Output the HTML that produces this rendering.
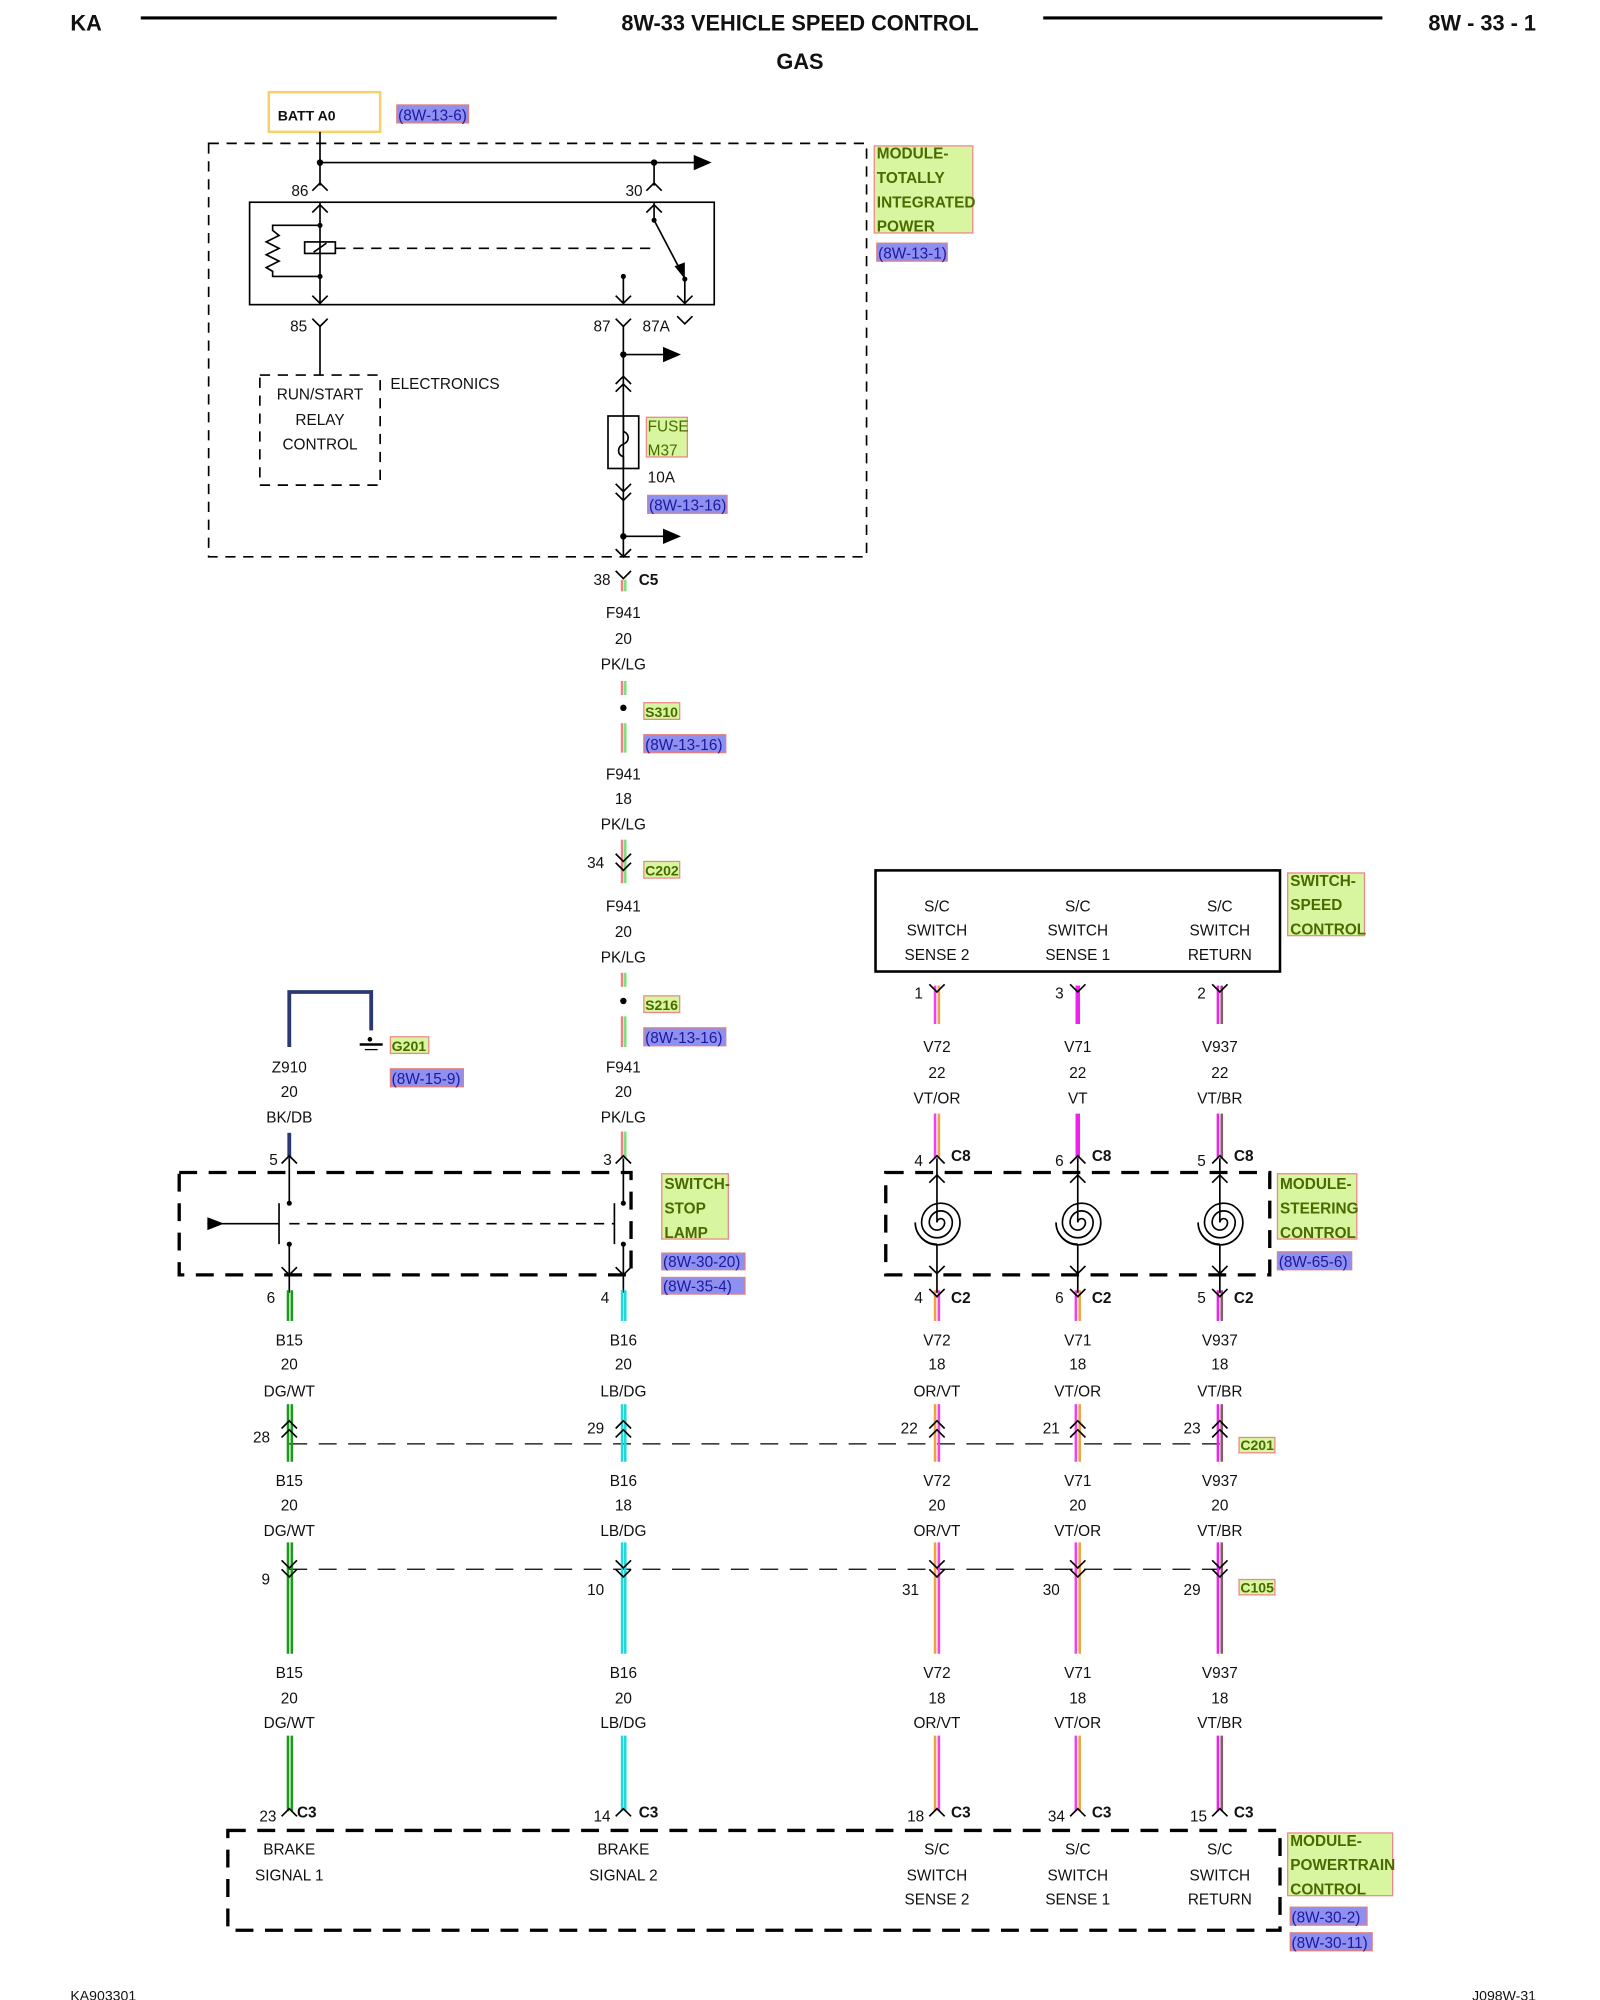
<!DOCTYPE html>
<html><head><meta charset="utf-8"><style>
html,body{margin:0;padding:0;background:#fff;}
svg{display:block}
text{font-family:"Liberation Sans",sans-serif;font-size:12px;fill:#111}
.b{font-weight:bold}
.c{text-anchor:middle}
.lg{font-weight:bold;fill:#4a6a00;font-size:12px}
.lb{fill:#1a1aa0;font-size:12px}
.k{stroke:#000;stroke-width:1.3;fill:none}
.d{stroke:#000;stroke-width:1.3;fill:none;stroke-dasharray:8 6}
.D{stroke:#000;stroke-width:2.6;fill:none;stroke-dasharray:14 9}
</style></head><body>
<svg width="1600" height="2000" viewBox="0 0 1250 1562.5" xmlns="http://www.w3.org/2000/svg">
<defs>
<g id="m"><polyline class="k" points="-6,6 0,0 6,6"/></g>
<g id="f"><polyline class="k" points="-6,-6 0,0 6,-6"/></g>
<g id="ar"><polygon points="0,-6 14,0 0,6" fill="#000"/></g>
</defs>
<text x="55" y="24" class="b" style="font-size:17px">KA</text>
<line x1="110" y1="14" x2="435" y2="14" stroke="#000" stroke-width="2.5"/>
<text x="625" y="24" class="b c" style="font-size:17px">8W-33 VEHICLE SPEED CONTROL</text>
<text x="625" y="54" class="b c" style="font-size:17px">GAS</text>
<line x1="815" y1="14" x2="1080" y2="14" stroke="#000" stroke-width="2.5"/>
<text x="1200" y="24" class="b" style="font-size:17px;text-anchor:end">8W - 33 - 1</text>

<rect x="210" y="72" width="87" height="31" fill="#fff" stroke="#f5d36a" stroke-width="2"/>
<text x="217" y="94" class="b" style="font-size:11px">BATT A0</text>
<rect x="310" y="82" width="56" height="14" fill="#8f8ff0" stroke="#e08080"/><text x="311" y="94" class="lb">(8W-13-6)</text>

<rect x="163" y="112" width="514" height="323" class="d"/>
<rect x="683" y="114" width="77" height="68" fill="#d8f5a0" stroke="#e88"/>
<text x="685" y="124" class="lg">MODULE-</text><text x="685" y="143" class="lg">TOTALLY</text><text x="685" y="162" class="lg">INTEGRATED</text><text x="685" y="181" class="lg">POWER</text>
<rect x="685" y="190" width="55" height="14" fill="#8f8ff0" stroke="#e08080"/><text x="686" y="202" class="lb">(8W-13-1)</text>
<line x1="250" y1="103" x2="250" y2="145" class="k"/>
<line x1="250" y1="127" x2="545" y2="127" class="k"/><use href="#ar" x="542" y="127"/>
<circle cx="250" cy="127" r="2.5"/><circle cx="511" cy="127" r="2.5"/>
<line x1="511" y1="127" x2="511" y2="145" class="k"/>
<use href="#m" x="250" y="143"/><use href="#m" x="511" y="143"/>
<text x="241" y="153" style="text-anchor:end">86</text><text x="502" y="153" style="text-anchor:end">30</text>
<rect x="195" y="158" width="363" height="80" class="k"/>
<line x1="250" y1="158" x2="250" y2="238" class="k"/><use href="#m" x="250" y="160"/><use href="#f" x="250" y="237"/>
<polyline class="k" points="250,176 213,176 213,180 218,184 208,189 218,194 208,199 218,204 208,209 213,212 213,216 250,216"/>
<circle cx="250" cy="176" r="2"/><circle cx="250" cy="216" r="2"/>
<rect x="238" y="189" width="24" height="9" fill="#fff" class="k"/><line x1="245" y1="197" x2="255" y2="190" class="k"/>
<line x1="262" y1="194" x2="510" y2="194" class="d"/>
<line x1="511" y1="158" x2="511" y2="172" class="k"/><use href="#m" x="511" y="160"/><circle cx="511" cy="172" r="2"/>
<line x1="511" y1="172" x2="532" y2="212" class="k"/><polygon points="535,218 527,208 535,205" fill="#000"/>
<circle cx="535" cy="218" r="2"/><line x1="535" y1="218" x2="535" y2="238" class="k"/><use href="#f" x="535" y="237"/>
<circle cx="487" cy="216" r="2"/><line x1="487" y1="216" x2="487" y2="238" class="k"/><use href="#f" x="487" y="237"/>
<use href="#f" x="250" y="255"/><use href="#f" x="487" y="255"/><use href="#f" x="535" y="253"/>
<text x="240" y="259" style="text-anchor:end">85</text><text x="477" y="259" style="text-anchor:end">87</text><text x="502" y="259">87A</text>
<line x1="250" y1="255" x2="250" y2="293" class="k"/>
<rect x="203" y="293" width="94" height="86" class="d"/>
<text x="250" y="312" class="c">RUN/START</text><text x="250" y="332" class="c">RELAY</text><text x="250" y="351" class="c">CONTROL</text>
<text x="305" y="304">ELECTRONICS</text>
<line x1="487" y1="255" x2="487" y2="435" class="k"/>
<circle cx="487" cy="277" r="2.5"/><line x1="487" y1="277" x2="520" y2="277" class="k"/><use href="#ar" x="518" y="277"/>
<use href="#m" x="487" y="294"/><use href="#m" x="487" y="300"/>
<rect x="475" y="325" width="24" height="41" fill="#fff" class="k"/>
<path d="M487,325 v12 c5,2 5,8 0,10 c-5,2 -5,8 0,10 v9" class="k"/>
<rect x="505" y="326" width="32" height="31" fill="#d8f5a0" stroke="#e88"/>
<text x="506" y="337" style="fill:#4a6a00">FUSE</text><text x="506" y="356" style="fill:#4a6a00">M37</text>
<text x="506" y="377">10A</text>
<rect x="506" y="387" width="62" height="14" fill="#8f8ff0" stroke="#e08080"/><text x="507" y="399" class="lb">(8W-13-16)</text>
<use href="#f" x="487" y="384"/><use href="#f" x="487" y="391"/>
<circle cx="487" cy="419" r="2.5"/><line x1="487" y1="419" x2="520" y2="419" class="k"/><use href="#ar" x="518" y="419"/>
<use href="#f" x="487" y="435"/>

<g>
<use href="#f" x="487" y="452"/><text x="477" y="457" style="text-anchor:end">38</text><text x="499" y="457" class="b">C5</text>
<line x1="486" y1="453" x2="486" y2="462" stroke="#f08080" stroke-width="2"/><line x1="488.5" y1="453" x2="488.5" y2="462" stroke="#80e080" stroke-width="2"/>
<text x="487" y="483" class="c">F941</text><text x="487" y="503" class="c">20</text><text x="487" y="523" class="c">PK/LG</text>
<line x1="486" y1="532" x2="486" y2="543" stroke="#f08080" stroke-width="2"/><line x1="488.5" y1="532" x2="488.5" y2="543" stroke="#80e080" stroke-width="2"/>
<circle cx="487" cy="553" r="2.5"/>
<rect x="503" y="549" width="28" height="13" fill="#d8f5a0" stroke="#e88"/><text x="504" y="560" class="lg" style="font-size:11px">S310</text>
<line x1="486" y1="565" x2="486" y2="588" stroke="#f08080" stroke-width="2"/><line x1="488.5" y1="565" x2="488.5" y2="588" stroke="#80e080" stroke-width="2"/>
<rect x="503" y="574" width="64" height="14" fill="#8f8ff0" stroke="#e08080"/><text x="504" y="586" class="lb">(8W-13-16)</text>
<text x="487" y="609" class="c">F941</text><text x="487" y="628" class="c">18</text><text x="487" y="648" class="c">PK/LG</text>
<line x1="486" y1="656" x2="486" y2="690" stroke="#f08080" stroke-width="2"/><line x1="488.5" y1="656" x2="488.5" y2="690" stroke="#80e080" stroke-width="2"/>
<use href="#f" x="487" y="673"/><use href="#f" x="487" y="680"/>
<text x="472" y="678" style="text-anchor:end">34</text>
<rect x="503" y="673" width="28" height="13" fill="#d8f5a0" stroke="#e88"/><text x="504" y="684" class="lg" style="font-size:11px">C202</text>
<text x="487" y="712" class="c">F941</text><text x="487" y="732" class="c">20</text><text x="487" y="752" class="c">PK/LG</text>
<line x1="486" y1="760" x2="486" y2="771" stroke="#f08080" stroke-width="2"/><line x1="488.5" y1="760" x2="488.5" y2="771" stroke="#80e080" stroke-width="2"/>
<circle cx="487" cy="782" r="2.5"/>
<rect x="503" y="778" width="28" height="13" fill="#d8f5a0" stroke="#e88"/><text x="504" y="789" class="lg" style="font-size:11px">S216</text>
<line x1="486" y1="794" x2="486" y2="818" stroke="#f08080" stroke-width="2"/><line x1="488.5" y1="794" x2="488.5" y2="818" stroke="#80e080" stroke-width="2"/>
<rect x="503" y="803" width="64" height="14" fill="#8f8ff0" stroke="#e08080"/><text x="504" y="815" class="lb">(8W-13-16)</text>
<text x="487" y="838" class="c">F941</text><text x="487" y="857" class="c">20</text><text x="487" y="877" class="c">PK/LG</text>
<line x1="486" y1="884" x2="486" y2="905" stroke="#f08080" stroke-width="2"/><line x1="488.5" y1="884" x2="488.5" y2="905" stroke="#80e080" stroke-width="2"/>
<use href="#m" x="487" y="903"/><text x="478" y="910" style="text-anchor:end">3</text>
</g>

<polyline points="226,818 226,775 290,775 290,805" fill="none" stroke="#2a3a70" stroke-width="3"/>
<line x1="281" y1="816" x2="299" y2="816" stroke="#000" stroke-width="2"/><line x1="285" y1="820" x2="295" y2="820" stroke="#000" stroke-width="1"/>
<circle cx="289" cy="812" r="1.8"/>
<rect x="305" y="810" width="30" height="13" fill="#d8f5a0" stroke="#e88"/><text x="306" y="821" class="lg" style="font-size:11px">G201</text>
<rect x="305" y="835" width="57" height="14" fill="#8f8ff0" stroke="#e08080"/><text x="306" y="847" class="lb">(8W-15-9)</text>
<text x="226" y="838" class="c">Z910</text><text x="226" y="857" class="c">20</text><text x="226" y="877" class="c">BK/DB</text>
<line x1="226" y1="885" x2="226" y2="905" stroke="#2a3a70" stroke-width="3"/>
<use href="#m" x="226" y="903"/><text x="217" y="910" style="text-anchor:end">5</text>

<rect x="140" y="916" width="353" height="80" class="D"/>
<line x1="226" y1="905" x2="226" y2="940" class="k"/><circle cx="226" cy="940" r="2"/>
<line x1="226" y1="972" x2="226" y2="1010" class="k"/><circle cx="226" cy="972" r="2"/>
<line x1="218" y1="940" x2="218" y2="972" class="k"/>
<polygon points="162,951 175,956 162,961" fill="#000"/><line x1="162" y1="956" x2="218" y2="956" class="k"/>
<line x1="226" y1="956" x2="480" y2="956" class="d"/>
<line x1="487" y1="905" x2="487" y2="940" class="k"/><circle cx="487" cy="940" r="2"/>
<line x1="487" y1="972" x2="487" y2="1010" class="k"/><circle cx="487" cy="972" r="2"/>
<line x1="480" y1="940" x2="480" y2="972" class="k"/>
<use href="#f" x="226" y="996"/><use href="#f" x="487" y="996"/>
<rect x="517" y="917" width="52" height="51" fill="#d8f5a0" stroke="#e88"/>
<text x="519" y="929" class="lg">SWITCH-</text><text x="519" y="948" class="lg">STOP</text><text x="519" y="967" class="lg">LAMP</text>
<rect x="517" y="979" width="65" height="13" fill="#8f8ff0" stroke="#e08080"/><text x="518" y="990" class="lb">(8W-30-20)</text>
<rect x="517" y="998" width="65" height="13" fill="#8f8ff0" stroke="#e08080"/><text x="518" y="1009" class="lb">(8W-35-4)</text>

<rect x="684" y="680" width="316" height="79" fill="none" stroke="#000" stroke-width="2"/>
<text x="732" y="712" class="c">S/C</text><text x="732" y="731" class="c">SWITCH</text><text x="732" y="750" class="c">SENSE 2</text>
<text x="842" y="712" class="c">S/C</text><text x="842" y="731" class="c">SWITCH</text><text x="842" y="750" class="c">SENSE 1</text>
<text x="953" y="712" class="c">S/C</text><text x="953" y="731" class="c">SWITCH</text><text x="953" y="750" class="c">RETURN</text>
<rect x="1006" y="682" width="60" height="49" fill="#d8f5a0" stroke="#e88"/>
<text x="1008" y="692" class="lg">SWITCH-</text><text x="1008" y="711" class="lg">SPEED</text><text x="1008" y="730" class="lg">CONTROL</text>

<rect x="692" y="916" width="300" height="80" class="D"/>
<rect x="998" y="917" width="62" height="51" fill="#d8f5a0" stroke="#e88"/>
<text x="1000" y="929" class="lg">MODULE-</text><text x="1000" y="948" class="lg">STEERING</text><text x="1000" y="967" class="lg">CONTROL</text>
<rect x="998" y="978" width="58" height="14" fill="#8f8ff0" stroke="#e08080"/><text x="999" y="990" class="lb">(8W-65-6)</text>

<line x1="226" y1="1128" x2="955" y2="1128" stroke="#000" stroke-width="1" stroke-dasharray="14 9"/>
<line x1="226" y1="1226" x2="955" y2="1226" stroke="#000" stroke-width="1" stroke-dasharray="14 9"/>
<rect x="968" y="1123" width="28" height="12" fill="#d8f5a0" stroke="#e88"/><text x="969" y="1133" class="lg" style="font-size:11px">C201</text>
<rect x="968" y="1234" width="28" height="12" fill="#d8f5a0" stroke="#e88"/><text x="969" y="1244" class="lg" style="font-size:11px">C105</text>

<rect x="178" y="1430" width="822" height="78" class="D"/>
<text x="226" y="1449" class="c">BRAKE</text><text x="226" y="1469" class="c">SIGNAL 1</text>
<text x="487" y="1449" class="c">BRAKE</text><text x="487" y="1469" class="c">SIGNAL 2</text>
<text x="732" y="1449" class="c">S/C</text><text x="732" y="1469" class="c">SWITCH</text><text x="732" y="1488" class="c">SENSE 2</text>
<text x="842" y="1449" class="c">S/C</text><text x="842" y="1469" class="c">SWITCH</text><text x="842" y="1488" class="c">SENSE 1</text>
<text x="953" y="1449" class="c">S/C</text><text x="953" y="1469" class="c">SWITCH</text><text x="953" y="1488" class="c">RETURN</text>
<rect x="1006" y="1432" width="82" height="49" fill="#d8f5a0" stroke="#e88"/>
<text x="1008" y="1442" class="lg">MODULE-</text><text x="1008" y="1461" class="lg">POWERTRAIN</text><text x="1008" y="1480" class="lg">CONTROL</text>
<rect x="1008" y="1490" width="60" height="14" fill="#8f8ff0" stroke="#e08080"/><text x="1009" y="1502" class="lb">(8W-30-2)</text>
<rect x="1008" y="1510" width="64" height="14" fill="#8f8ff0" stroke="#e08080"/><text x="1009" y="1522" class="lb">(8W-30-11)</text>

<g stroke-width="2">
<line x1="225" y1="1008" x2="225" y2="1032" stroke="#1a9a1a"/><line x1="228" y1="1008" x2="228" y2="1032" stroke="#1a9a1a"/>
<line x1="225" y1="1097" x2="225" y2="1142" stroke="#1a9a1a"/><line x1="228" y1="1097" x2="228" y2="1142" stroke="#1a9a1a"/>
<line x1="225" y1="1205" x2="225" y2="1292" stroke="#1a9a1a"/><line x1="228" y1="1205" x2="228" y2="1292" stroke="#1a9a1a"/>
<line x1="225" y1="1356" x2="225" y2="1415" stroke="#1a9a1a"/><line x1="228" y1="1356" x2="228" y2="1415" stroke="#1a9a1a"/>
<line x1="486" y1="1008" x2="486" y2="1032" stroke="#20d8d8"/><line x1="488.5" y1="1008" x2="488.5" y2="1032" stroke="#20d8d8"/>
<line x1="486" y1="1097" x2="486" y2="1142" stroke="#20d8d8"/><line x1="488.5" y1="1097" x2="488.5" y2="1142" stroke="#20d8d8"/>
<line x1="486" y1="1205" x2="486" y2="1292" stroke="#20d8d8"/><line x1="488.5" y1="1205" x2="488.5" y2="1292" stroke="#20d8d8"/>
<line x1="486" y1="1356" x2="486" y2="1415" stroke="#20d8d8"/><line x1="488.5" y1="1356" x2="488.5" y2="1415" stroke="#20d8d8"/>
</g>
<g>
<text x="226" y="1051" class="c">B15</text><text x="226" y="1070" class="c">20</text><text x="226" y="1091" class="c">DG/WT</text>
<text x="226" y="1161" class="c">B15</text><text x="226" y="1180" class="c">20</text><text x="226" y="1200" class="c">DG/WT</text>
<text x="226" y="1311" class="c">B15</text><text x="226" y="1331" class="c">20</text><text x="226" y="1350" class="c">DG/WT</text>
<text x="487" y="1051" class="c">B16</text><text x="487" y="1070" class="c">20</text><text x="487" y="1091" class="c">LB/DG</text>
<text x="487" y="1161" class="c">B16</text><text x="487" y="1180" class="c">18</text><text x="487" y="1200" class="c">LB/DG</text>
<text x="487" y="1311" class="c">B16</text><text x="487" y="1331" class="c">20</text><text x="487" y="1350" class="c">LB/DG</text>
<text x="215" y="1018" style="text-anchor:end">6</text><text x="476" y="1018" style="text-anchor:end">4</text>
<text x="211" y="1127" style="text-anchor:end">28</text><text x="472" y="1120" style="text-anchor:end">29</text>
<text x="211" y="1238" style="text-anchor:end">9</text><text x="472" y="1246" style="text-anchor:end">10</text>
<text x="216" y="1423" style="text-anchor:end">23</text><text x="232" y="1420" class="b">C3</text>
<text x="477" y="1423" style="text-anchor:end">14</text><text x="499" y="1420" class="b">C3</text>
<use href="#m" x="226" y="1110"/><use href="#m" x="226" y="1117"/><use href="#m" x="487" y="1110"/><use href="#m" x="487" y="1117"/>
<use href="#f" x="226" y="1225"/><use href="#f" x="226" y="1232"/><use href="#f" x="487" y="1225"/><use href="#f" x="487" y="1232"/>
<use href="#m" x="226" y="1413"/><use href="#m" x="487" y="1413"/>
</g>

<g stroke-width="2">
<line x1="730.5" y1="770" x2="730.5" y2="800" stroke="#f040f0"/><line x1="733.5" y1="770" x2="733.5" y2="800" stroke="#f0a040"/>
<line x1="730.5" y1="870" x2="730.5" y2="905" stroke="#f040f0"/><line x1="733.5" y1="870" x2="733.5" y2="905" stroke="#f0a040"/>
<line x1="730.5" y1="1008" x2="730.5" y2="1032" stroke="#f0a040"/><line x1="733.5" y1="1008" x2="733.5" y2="1032" stroke="#f040f0"/>
<line x1="730.5" y1="1097" x2="730.5" y2="1142" stroke="#f0a040"/><line x1="733.5" y1="1097" x2="733.5" y2="1142" stroke="#f040f0"/>
<line x1="730.5" y1="1205" x2="730.5" y2="1292" stroke="#f0a040"/><line x1="733.5" y1="1205" x2="733.5" y2="1292" stroke="#f040f0"/>
<line x1="730.5" y1="1356" x2="730.5" y2="1415" stroke="#f0a040"/><line x1="733.5" y1="1356" x2="733.5" y2="1415" stroke="#f040f0"/>
<line x1="842" y1="770" x2="842" y2="800" stroke="#f020f0" stroke-width="3.5"/>
<line x1="842" y1="870" x2="842" y2="905" stroke="#f020f0" stroke-width="3.5"/>
<line x1="840.5" y1="1008" x2="840.5" y2="1032" stroke="#f040f0"/><line x1="843.5" y1="1008" x2="843.5" y2="1032" stroke="#f0a040"/>
<line x1="840.5" y1="1097" x2="840.5" y2="1142" stroke="#f040f0"/><line x1="843.5" y1="1097" x2="843.5" y2="1142" stroke="#f0a040"/>
<line x1="840.5" y1="1205" x2="840.5" y2="1292" stroke="#f040f0"/><line x1="843.5" y1="1205" x2="843.5" y2="1292" stroke="#f0a040"/>
<line x1="840.5" y1="1356" x2="840.5" y2="1415" stroke="#f040f0"/><line x1="843.5" y1="1356" x2="843.5" y2="1415" stroke="#f0a040"/>
<line x1="951.5" y1="770" x2="951.5" y2="800" stroke="#f020f0"/><line x1="954.5" y1="770" x2="954.5" y2="800" stroke="#8a5a6a"/>
<line x1="951.5" y1="870" x2="951.5" y2="905" stroke="#f020f0"/><line x1="954.5" y1="870" x2="954.5" y2="905" stroke="#8a5a6a"/>
<line x1="951.5" y1="1008" x2="951.5" y2="1032" stroke="#f020f0"/><line x1="954.5" y1="1008" x2="954.5" y2="1032" stroke="#8a5a6a"/>
<line x1="951.5" y1="1097" x2="951.5" y2="1142" stroke="#f020f0"/><line x1="954.5" y1="1097" x2="954.5" y2="1142" stroke="#8a5a6a"/>
<line x1="951.5" y1="1205" x2="951.5" y2="1292" stroke="#f020f0"/><line x1="954.5" y1="1205" x2="954.5" y2="1292" stroke="#8a5a6a"/>
<line x1="951.5" y1="1356" x2="951.5" y2="1415" stroke="#f020f0"/><line x1="954.5" y1="1356" x2="954.5" y2="1415" stroke="#8a5a6a"/>
</g>
<g>
<use href="#f" x="732" y="775"/><use href="#f" x="842" y="775"/><use href="#f" x="953" y="775"/>
<text x="721" y="780" style="text-anchor:end">1</text><text x="831" y="780" style="text-anchor:end">3</text><text x="942" y="780" style="text-anchor:end">2</text>
<text x="732" y="822" class="c">V72</text><text x="732" y="842" class="c">22</text><text x="732" y="862" class="c">VT/OR</text>
<text x="842" y="822" class="c">V71</text><text x="842" y="842" class="c">22</text><text x="842" y="862" class="c">VT</text>
<text x="953" y="822" class="c">V937</text><text x="953" y="842" class="c">22</text><text x="953" y="862" class="c">VT/BR</text>
<use href="#m" x="732" y="903"/><use href="#m" x="842" y="903"/><use href="#m" x="953" y="903"/>
<text x="721" y="911" style="text-anchor:end">4</text><text x="831" y="911" style="text-anchor:end">6</text><text x="942" y="911" style="text-anchor:end">5</text>
<text x="743" y="907" class="b">C8</text><text x="853" y="907" class="b">C8</text><text x="964" y="907" class="b">C8</text>
<g id="cs">
<line x1="732" y1="905" x2="732" y2="955" class="k"/><use href="#m" x="732" y="918"/>
<path d="M732,955 A3,3 0 0,1 738,955 A6,6 0 0,1 726,955 A9,9 0 0,1 744,955 A12,12 0 0,1 720,955 A15,15 0 0,1 750,955 A17.5,17.5 0 0,1 715,955 A17,17 0 0,0 732,972" class="k"/>
<line x1="732" y1="972" x2="732" y2="1010" class="k"/><use href="#f" x="732" y="995"/>
</g>
<use href="#cs" x="110"/><use href="#cs" x="221"/>
<use href="#f" x="732" y="1013"/><use href="#f" x="842" y="1013"/><use href="#f" x="953" y="1013"/>
<text x="721" y="1018" style="text-anchor:end">4</text><text x="831" y="1018" style="text-anchor:end">6</text><text x="942" y="1018" style="text-anchor:end">5</text>
<text x="743" y="1018" class="b">C2</text><text x="853" y="1018" class="b">C2</text><text x="964" y="1018" class="b">C2</text>
<text x="732" y="1051" class="c">V72</text><text x="732" y="1070" class="c">18</text><text x="732" y="1091" class="c">OR/VT</text>
<text x="842" y="1051" class="c">V71</text><text x="842" y="1070" class="c">18</text><text x="842" y="1091" class="c">VT/OR</text>
<text x="953" y="1051" class="c">V937</text><text x="953" y="1070" class="c">18</text><text x="953" y="1091" class="c">VT/BR</text>
<use href="#m" x="732" y="1110"/><use href="#m" x="732" y="1117"/><use href="#m" x="842" y="1110"/><use href="#m" x="842" y="1117"/><use href="#m" x="953" y="1110"/><use href="#m" x="953" y="1117"/>
<text x="717" y="1120" style="text-anchor:end">22</text><text x="828" y="1120" style="text-anchor:end">21</text><text x="938" y="1120" style="text-anchor:end">23</text>
<text x="732" y="1161" class="c">V72</text><text x="732" y="1180" class="c">20</text><text x="732" y="1200" class="c">OR/VT</text>
<text x="842" y="1161" class="c">V71</text><text x="842" y="1180" class="c">20</text><text x="842" y="1200" class="c">VT/OR</text>
<text x="953" y="1161" class="c">V937</text><text x="953" y="1180" class="c">20</text><text x="953" y="1200" class="c">VT/BR</text>
<use href="#f" x="732" y="1225"/><use href="#f" x="732" y="1232"/><use href="#f" x="842" y="1225"/><use href="#f" x="842" y="1232"/><use href="#f" x="953" y="1225"/><use href="#f" x="953" y="1232"/>
<text x="718" y="1246" style="text-anchor:end">31</text><text x="828" y="1246" style="text-anchor:end">30</text><text x="938" y="1246" style="text-anchor:end">29</text>
<text x="732" y="1311" class="c">V72</text><text x="732" y="1331" class="c">18</text><text x="732" y="1350" class="c">OR/VT</text>
<text x="842" y="1311" class="c">V71</text><text x="842" y="1331" class="c">18</text><text x="842" y="1350" class="c">VT/OR</text>
<text x="953" y="1311" class="c">V937</text><text x="953" y="1331" class="c">18</text><text x="953" y="1350" class="c">VT/BR</text>
<use href="#m" x="732" y="1413"/><use href="#m" x="842" y="1413"/><use href="#m" x="953" y="1413"/>
<text x="722" y="1423" style="text-anchor:end">18</text><text x="832" y="1423" style="text-anchor:end">34</text><text x="943" y="1423" style="text-anchor:end">15</text>
<text x="743" y="1420" class="b">C3</text><text x="853" y="1420" class="b">C3</text><text x="964" y="1420" class="b">C3</text>
</g>

<text x="55" y="1563" style="font-size:11px">KA903301</text>
<text x="1200" y="1563" style="font-size:11px;text-anchor:end">J098W-31</text>
</svg>
</body></html>
